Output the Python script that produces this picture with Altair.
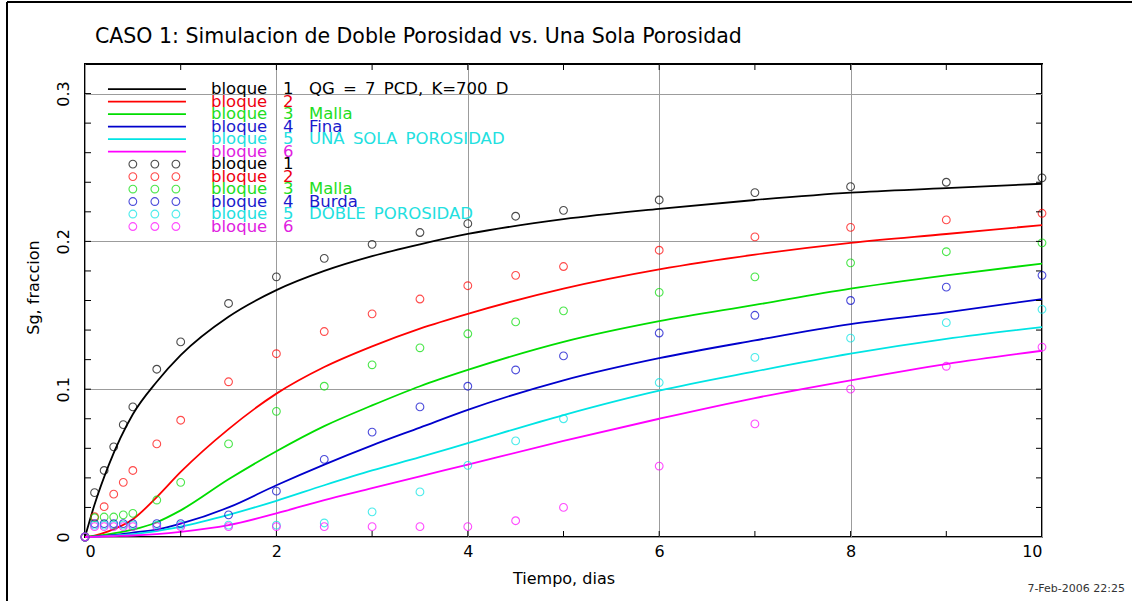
import altair as alt
import pandas as pd

# ---- Una sola porosidad: simulated curves (Sg vs tiempo) ----
LINE_T = [0, 0.1, 0.25, 0.5, 0.75, 1, 1.5, 2, 2.5, 3, 3.5, 4, 5, 6, 7, 8, 9, 10]
LINE_B1 = [0, 0.022, 0.049, 0.083, 0.105, 0.123, 0.149, 0.167, 0.180, 0.190, 0.198, 0.205, 0.215, 0.222, 0.228, 0.233, 0.236, 0.239]
LINE_B2 = [0, 0.001, 0.004, 0.012, 0.027, 0.044, 0.073, 0.097, 0.115, 0.129, 0.141, 0.151, 0.168, 0.181, 0.191, 0.199, 0.205, 0.211]
LINE_B3 = [0, 0.0005, 0.002, 0.005, 0.010, 0.018, 0.039, 0.058, 0.075, 0.089, 0.102, 0.113, 0.132, 0.146, 0.157, 0.168, 0.177, 0.185]
LINE_B4 = [0, 0.0003, 0.001, 0.003, 0.005, 0.009, 0.020, 0.035, 0.049, 0.062, 0.074, 0.086, 0.106, 0.121, 0.133, 0.144, 0.152, 0.161]
LINE_B5 = [0, 0.0002, 0.0008, 0.002, 0.004, 0.007, 0.015, 0.0245, 0.035, 0.045, 0.054, 0.0635, 0.0825, 0.099, 0.112, 0.124, 0.134, 0.142]
LINE_B6 = [0, 0.0001, 0.0005, 0.001, 0.002, 0.0035, 0.008, 0.016, 0.025, 0.033, 0.041, 0.049, 0.065, 0.080, 0.094, 0.106, 0.117, 0.126]

# ---- Doble porosidad: simulated points ----
PT_T = [0, 0.1, 0.2, 0.3, 0.4, 0.5, 0.75, 1, 1.5, 2, 2.5, 3, 3.5, 4, 4.5, 5, 6, 7, 8, 9, 10]
PT_B1 = [0, 0.030, 0.045, 0.061, 0.076, 0.088, 0.1135, 0.132, 0.158, 0.176, 0.1885, 0.198, 0.206, 0.212, 0.217, 0.221, 0.228, 0.233, 0.237, 0.240, 0.243]
PT_B2 = [0, 0.0137, 0.0205, 0.029, 0.037, 0.045, 0.063, 0.079, 0.105, 0.124, 0.139, 0.151, 0.161, 0.170, 0.177, 0.183, 0.194, 0.203, 0.2095, 0.2145, 0.219]
PT_B3 = [0, 0.013, 0.0135, 0.0135, 0.015, 0.016, 0.025, 0.037, 0.063, 0.085, 0.102, 0.1165, 0.128, 0.1375, 0.1455, 0.153, 0.1655, 0.176, 0.1855, 0.193, 0.199]
PT_B4 = [0, 0.009, 0.009, 0.009, 0.009, 0.009, 0.009, 0.009, 0.015, 0.031, 0.0525, 0.071, 0.088, 0.102, 0.113, 0.1225, 0.138, 0.150, 0.160, 0.169, 0.177]
PT_B5 = [0, 0.008, 0.008, 0.008, 0.008, 0.008, 0.008, 0.008, 0.008, 0.008, 0.0095, 0.017, 0.0305, 0.0485, 0.065, 0.080, 0.1045, 0.1215, 0.1345, 0.145, 0.154]
PT_B6 = [0, 0.007, 0.007, 0.007, 0.007, 0.007, 0.007, 0.007, 0.007, 0.007, 0.007, 0.007, 0.007, 0.007, 0.011, 0.020, 0.048, 0.0765, 0.100, 0.1155, 0.1285]

BLOCKS = ["bloque 1", "bloque 2", "bloque 3", "bloque 4", "bloque 5", "bloque 6"]
LINE_COLORS = ["#000000", "#ff0000", "#00dd00", "#0000cc", "#00e4e4", "#ff00ff"]
POINT_COLORS = ["#3a3a3a", "#d8404c", "#3cc43c", "#3a3ac8", "#3cd8d8", "#d83cc8"]

# legend rows (en spaces keep the wide word gaps of the plotter font)
SP = "\u2002"
LEG_WORD = ["bloque"] * 12
LEG_NUM = ["1", "2", "3", "4", "5", "6", "1", "2", "3", "4", "5", "6"]
LEG_SUFFIX = [
    SP.join(["QG", "=", "7", "PCD,", "K=700", "D"]), "", "Malla", "Fina",
    SP.join(["UNA", "SOLA", "POROSIDAD"]), "",
    "", "", "Malla", "Burda", SP.join(["DOBLE", "POROSIDAD"]), "",
]
LEG_TEXT_COLORS = ["#000000", "#ee0010", "#22dd22", "#1a1acc", "#22e0e0", "#e020e0"] * 2

# axis values
X_LABELS = [0, 2, 4, 6, 8, 10]
Y_LABELS = [0, 0.1, 0.2, 0.3]
X_TICKS = [1, 2, 3, 4, 5, 6, 7, 8, 9]
Y_TICKS = [0.02, 0.04, 0.06, 0.08, 0.10, 0.12, 0.14, 0.16, 0.18, 0.20, 0.22, 0.24, 0.26, 0.28, 0.30]

TITLE = "CASO 1: Simulacion de Doble Porosidad vs. Una Sola Porosidad"
STAMP = "7-Feb-2006 22:25"

W, H = 957, 473
PAD_L, PAD_T = 85, 64
FONT = "DejaVu Sans"

xs = alt.Scale(domain=[0, 10], nice=False)
ys = alt.Scale(domain=[0, 0.32], nice=False)
color_lines = alt.Scale(domain=BLOCKS, range=LINE_COLORS)
color_pts = alt.Scale(domain=BLOCKS, range=POINT_COLORS)

line_vals = [LINE_B1, LINE_B2, LINE_B3, LINE_B4, LINE_B5, LINE_B6]
pt_vals = [PT_B1, PT_B2, PT_B3, PT_B4, PT_B5, PT_B6]

lines_df = pd.concat(
    [pd.DataFrame({"t": LINE_T, "sg": v, "bloque": b}) for b, v in zip(BLOCKS, line_vals)]
)
pts_df = pd.concat(
    [pd.DataFrame({"t": PT_T, "sg": v, "bloque": b}) for b, v in zip(BLOCKS, pt_vals)]
)

x_axis = alt.Axis(
    values=X_LABELS, title="Tiempo, dias", grid=True, ticks=False, tickSize=0, domain=False,
    labelFont=FONT, labelFontSize=16, labelColor="#000", labelPadding=6,
    titleFont=FONT, titleFontSize=16, titleFontWeight="normal", titleColor="#000",
    titleY=41, titleBaseline="middle",
)
y_axis = alt.Axis(
    values=Y_LABELS, format="~g", title="Sg, fraccion", grid=True, ticks=False, tickSize=0,
    domain=False, labelFont=FONT, labelFontSize=16, labelColor="#000", labelAngle=270,
    labelAlign="center", labelBaseline="bottom", labelPadding=14,
    titleFont=FONT, titleFontSize=16, titleFontWeight="normal", titleColor="#000",
    titleAngle=270, titleX=-52, titleY=223, titleAlign="center", titleBaseline="middle",
)


def X(field):
    return alt.X(field, scale=xs, axis=x_axis)


def Y(field):
    return alt.Y(field, scale=ys, axis=y_axis)


curves = alt.Chart(lines_df).mark_line(strokeWidth=1.8, interpolate="monotone").encode(
    x=X("t:Q"), y=Y("sg:Q"),
    color=alt.Color("bloque:N", scale=color_lines, legend=None),
    detail="bloque:N",
)

points = alt.Chart(pts_df).mark_point(shape="circle", filled=False, size=60, strokeWidth=1.1).encode(
    x=X("t:Q"), y=Y("sg:Q"),
    color=alt.Color("bloque:N", scale=color_pts, legend=None),
)

# inward tick marks on all four sides of the frame
xt = pd.DataFrame({"t": X_TICKS})
yt = pd.DataFrame({"sg": Y_TICKS})
tick_style = dict(color="#000", strokeWidth=1)
ticks_bottom = alt.Chart(xt).mark_rule(**tick_style).encode(
    x=X("t:Q"), y=alt.value(H), y2=alt.value(H - 6))
ticks_top = alt.Chart(xt).mark_rule(**tick_style).encode(
    x=X("t:Q"), y=alt.value(0), y2=alt.value(6))
ticks_left = alt.Chart(yt).mark_rule(**tick_style).encode(
    y=Y("sg:Q"), x=alt.value(0), x2=alt.value(6))
ticks_right = alt.Chart(yt).mark_rule(**tick_style).encode(
    y=Y("sg:Q"), x=alt.value(W), x2=alt.value(W - 6))

# legend block, laid out in data units of the plot
LEG_Y0 = 0.303
LEG_DY = 0.00845
leg = pd.DataFrame({
    "row": list(range(12)),
    "word": LEG_WORD,
    "num": LEG_NUM,
    "suffix": LEG_SUFFIX,
    "col": LEG_TEXT_COLORS,
})
leg["sg"] = LEG_Y0 - LEG_DY * leg["row"]
leg["xw"] = 1.317
leg["xn"] = 2.07
leg["xs"] = 2.34

text_style = dict(align="left", baseline="middle", font=FONT, fontSize=16.5)
leg_word = alt.Chart(leg).mark_text(**text_style).encode(
    x=X("xw:Q"), y=Y("sg:Q"), text="word:N", color=alt.Color("col:N", scale=None))
leg_num = alt.Chart(leg).mark_text(**text_style).encode(
    x=X("xn:Q"), y=Y("sg:Q"), text="num:N", color=alt.Color("col:N", scale=None))
leg_suffix = alt.Chart(leg).mark_text(**text_style).encode(
    x=X("xs:Q"), y=Y("sg:Q"), text="suffix:N", color=alt.Color("col:N", scale=None))

leg_lines_df = pd.DataFrame({"bloque": BLOCKS, "sg": leg["sg"][:6].values, "x0": 0.24, "x1": 1.055})
leg_lines = alt.Chart(leg_lines_df).mark_rule(strokeWidth=1.8).encode(
    x=X("x0:Q"), x2="x1:Q", y=Y("sg:Q"),
    color=alt.Color("bloque:N", scale=color_lines, legend=None))

leg_pts_df = pd.DataFrame([
    {"bloque": b, "sg": yv, "t": xv}
    for b, yv in zip(BLOCKS, leg["sg"][6:].values)
    for xv in (0.50, 0.73, 0.95)
])
leg_pts = alt.Chart(leg_pts_df).mark_point(shape="circle", filled=False, size=60, strokeWidth=1.1).encode(
    x=X("t:Q"), y=Y("sg:Q"),
    color=alt.Color("bloque:N", scale=color_pts, legend=None))

one = pd.DataFrame({"k": [0]})
title = alt.Chart(one).mark_text(align="left", baseline="middle", font=FONT,
                                 fontSize=20.5, color="#000").encode(
    x=alt.value(10), y=alt.value(-27), text=alt.value(TITLE))
stamp = alt.Chart(one).mark_text(align="right", baseline="middle", font=FONT,
                                 fontSize=11, color="#333").encode(
    x=alt.value(1040), y=alt.value(525), text=alt.value(STAMP))
frame_left = alt.Chart(one).mark_rule(color="#000", strokeWidth=2).encode(
    x=alt.value(-78), y=alt.value(-62), y2=alt.value(540))
frame_top = alt.Chart(one).mark_rule(color="#000", strokeWidth=2).encode(
    x=alt.value(-78), x2=alt.value(1050), y=alt.value(-62))

chart = alt.layer(
    curves, points, ticks_bottom, ticks_top, ticks_left, ticks_right,
    leg_lines, leg_pts, leg_word, leg_num, leg_suffix,
    title, stamp, frame_left, frame_top,
).properties(
    width=W, height=H,
    padding={"left": PAD_L, "top": PAD_T, "right": 1132 - PAD_L - W, "bottom": 601 - PAD_T - H},
    autosize=alt.AutoSizeParams(type="none"),
    background="white",
).configure_view(
    stroke="#000", strokeWidth=2,
).configure_axis(
    gridColor="#9c9c9c", gridWidth=1, gridOpacity=1,
)

chart.save("out.html", embed_options={"renderer": "svg", "actions": False})
